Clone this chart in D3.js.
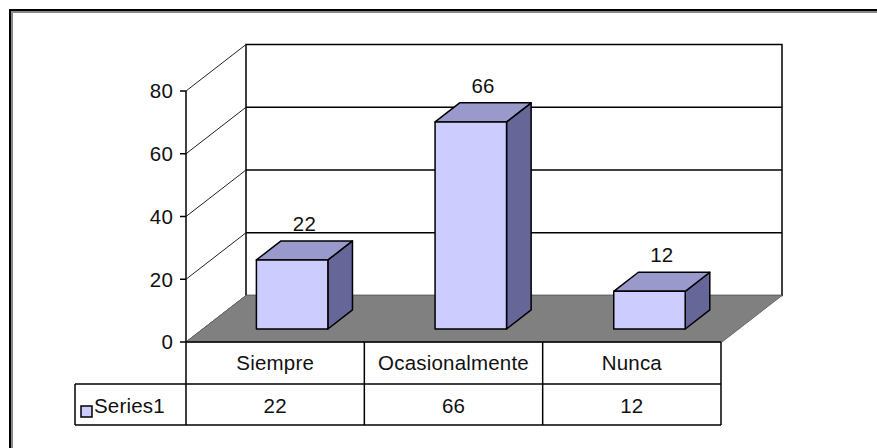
<!DOCTYPE html>
<html lang="es">
  <head>
    <meta charset="UTF-8" />
    <title>Series1</title>
    <script src="https://cdnjs.cloudflare.com/ajax/libs/d3/7.8.5/d3.min.js"></script>
    <style>
      body {
        margin: 0;
        background: #fff;
      }
      text {
        font-family: Arial, 'Liberation Sans', sans-serif;
        font-size: 20.5px;
        letter-spacing: 0.2px;
        fill: #111;
      }
    </style>
  </head>
  <body>
    <svg width="877" height="448"></svg>
    <script>
      // chart data
      const categories = ['Siempre', 'Ocasionalmente', 'Nunca'];
      const values = [22, 66, 12];
      const seriesName = 'Series1';
      const yTicks = [0, 20, 40, 60, 80];

      const svg = d3.select('svg');

      // outer chart border (right/bottom fall outside the picture)
      svg.append('path').attr('d', 'M10,460V10H890').attr('fill', 'none').attr('stroke', '#000').attr('stroke-width', 2);
      svg.append('path').attr('d', 'M12,460V12H890').attr('fill', 'none').attr('stroke', '#888').attr('stroke-width', 2);

      // front plane scales, plus a depth vector for the 3d look
      const y = d3.scaleLinear().domain([0, 80]).range([342, 91]);
      const x = d3.scaleBand().domain(categories).range([186, 722]).paddingInner(0.6).paddingOuter(0.3);
      const col = d3.scaleBand().domain(categories).range([186, 721]);
      const depth = { dx: 60, dy: -46.5 };
      const off = f => [depth.dx * f, depth.dy * f];

      const pts = p => p.map(d => d.join(',')).join(' ');

      // back wall
      const [bx, by] = off(1);
      svg.append('rect')
        .attr('x', 186 + bx).attr('y', y(80) + by)
        .attr('width', 536).attr('height', y(0) - y(80))
        .attr('fill', '#fff').attr('stroke', '#000').attr('stroke-width', 1.5);

      // gridlines on the back wall and the side wall
      yTicks.forEach(v => {
        if (v > 0 && v < 80) {
          svg.append('line')
            .attr('x1', 186 + bx).attr('x2', 722 + bx)
            .attr('y1', y(v) + by).attr('y2', y(v) + by)
            .attr('stroke', '#000').attr('stroke-width', 1.5);
        }
        svg.append('line')
          .attr('x1', 186).attr('y1', y(v))
          .attr('x2', 186 + bx).attr('y2', y(v) + by)
          .attr('stroke', '#222').attr('stroke-width', 1);
      });

      // floor
      svg.append('polygon')
        .attr('points', pts([[186, y(0)], [722, y(0)], [722 + bx, y(0) + by], [186 + bx, y(0) + by]]))
        .attr('fill', '#808080').attr('stroke', '#6a6a6a').attr('stroke-width', 1);

      // y axis, ticks and labels
      svg.append('line').attr('x1', 186).attr('x2', 186).attr('y1', y(80)).attr('y2', y(0))
        .attr('stroke', '#000').attr('stroke-width', 1.5);
      yTicks.forEach(v => {
        svg.append('line').attr('x1', 180).attr('x2', 186).attr('y1', y(v)).attr('y2', y(v))
          .attr('stroke', '#000').attr('stroke-width', 1.5);
        svg.append('text').attr('x', 173).attr('y', y(v)).attr('dy', '0.36em')
          .attr('text-anchor', 'end').text(v);
      });

      // 3d bars
      const f0 = 0.28, f1 = 0.69;
      const [x0, y0] = off(f0), [x1, y1] = off(f1);
      const bars = svg.append('g');
      categories.forEach((c, i) => {
        const l = x(c) + x0, r = x(c) + x.bandwidth() + x0;
        const t = y(values[i]) + y0, b = y(0) + y0;
        const ddx = x1 - x0, ddy = y1 - y0;
        const g = bars.append('g').attr('stroke', '#000').attr('stroke-width', 1.5).attr('stroke-linejoin', 'round');
        g.append('polygon').attr('points', pts([[r, t], [r + ddx, t + ddy], [r + ddx, b + ddy], [r, b]])).attr('fill', '#666699');
        g.append('polygon').attr('points', pts([[l, t], [l + ddx, t + ddy], [r + ddx, t + ddy], [r, t]])).attr('fill', '#9999cc');
        g.append('rect').attr('x', l).attr('y', t).attr('width', r - l).attr('height', b - t).attr('fill', '#ccccff');
        bars.append('text')
          .attr('x', (l + r) / 2 + ddx / 2).attr('y', t + ddy - 10)
          .attr('text-anchor', 'middle').text(values[i]);
      });

      // data table below the chart
      const tbl = svg.append('g').attr('stroke', '#000').attr('stroke-width', 1.5);
      tbl.append('line').attr('x1', 186).attr('x2', 721).attr('y1', 342).attr('y2', 342);
      tbl.append('line').attr('x1', 75).attr('x2', 721).attr('y1', 384).attr('y2', 384);
      tbl.append('line').attr('x1', 75).attr('x2', 721).attr('y1', 425).attr('y2', 425);
      tbl.append('line').attr('x1', 75).attr('x2', 75).attr('y1', 384).attr('y2', 425);
      col.domain().forEach(c => {
        tbl.append('line').attr('x1', col(c) + col.bandwidth()).attr('x2', col(c) + col.bandwidth()).attr('y1', 342).attr('y2', 425);
      });
      tbl.append('line').attr('x1', 186).attr('x2', 186).attr('y1', 342).attr('y2', 425);

      categories.forEach((c, i) => {
        const cx = col(c) + col.bandwidth() / 2;
        svg.append('text').attr('x', cx).attr('y', 363).attr('dy', '0.36em').attr('text-anchor', 'middle').text(c);
        svg.append('text').attr('x', cx).attr('y', 406).attr('dy', '0.36em').attr('text-anchor', 'middle').text(values[i]);
      });

      // legend key in the table
      svg.append('rect').attr('x', 81).attr('y', 406).attr('width', 11).attr('height', 11)
        .attr('fill', '#ccccff').attr('stroke', '#000').attr('stroke-width', 1.5);
      svg.append('text').attr('x', 94).attr('y', 406).attr('dy', '0.36em').text(seriesName);
    </script>
  </body>
</html>
